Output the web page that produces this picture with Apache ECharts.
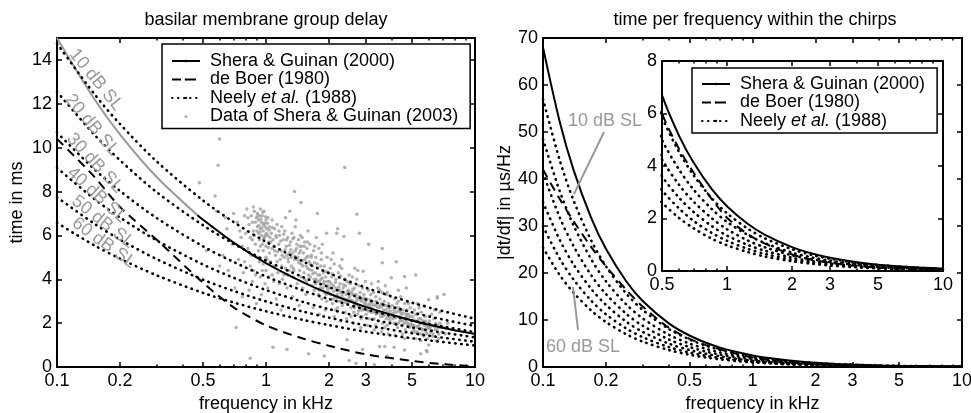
<!DOCTYPE html>
<html><head><meta charset="utf-8">
<script src="https://cdn.jsdelivr.net/npm/echarts@6/dist/echarts.min.js"></script>
<style>html,body{margin:0;padding:0;background:#fff}#c{width:971px;height:413px}</style>
</head><body><div id="c"></div>
<script>
// ---------- data ----------
const freqL = [0.1,0.15,0.2,0.3,0.5,0.7,1,1.5,2,3,5,7,10];
const sheraGrayF = [0.1,0.15,0.2,0.3,0.47];
const sheraGrayT = [15,12.25,10.61,8.66,6.92];
const sheraF = [0.47,0.5,0.7,1,1.5,2,3,5,7,10];
const sheraT = [6.92,6.71,5.67,4.74,3.87,3.35,2.74,2.12,1.79,1.5];
const deBoerT = [10.4,8.7,7.3,5.8,3.84,2.72,1.9,1.3,0.97,0.58,0.28,0.13,0.03];
const neely10T = [14.75,12.48,11.08,9.37,7.59,6.61,5.70,4.82,4.28,3.62,2.93,2.55,2.20];
const neely20T = [12.55,10.62,9.43,7.97,6.46,5.62,4.85,4.10,3.64,3.08,2.49,2.17,1.87];
const neely30T = [10.69,9.04,8.03,6.79,5.50,4.79,4.13,3.49,3.10,2.62,2.12,1.85,1.59];
const neely40T = [9.08,7.68,6.82,5.77,4.67,4.07,3.51,2.97,2.64,2.23,1.80,1.57,1.35];
const neely50T = [7.74,6.55,5.81,4.92,3.98,3.47,2.99,2.53,2.25,1.90,1.54,1.34,1.15];
const neely60T = [6.57,5.56,4.94,4.18,3.38,2.94,2.54,2.15,1.91,1.61,1.31,1.14,0.98];

const freqR = [0.1,0.12,0.14,0.17,0.2,0.25,0.3,0.4,0.5,0.6,0.7,0.85,1,1.25,1.5,2,2.5,3,4,5,7,10];
const sheraR = [68,52.3,41.9,31.7,25.1,18.2,14.0,9.24,6.70,5.15,4.13,3.12,2.47,1.79,1.38,0.91,0.66,0.51,0.335,0.243,0.15,0.09];
const deBoerR = [42,35.8,31.0,25.5,21.4,16.4,12.8,8.3,6.0,4.65,3.75,2.74,2.03,1.40,1.04,0.63,0.42,0.31,0.19,0.13,0.07,0.035];
const neely10R = [57,44.1,35.4,26.9,21.4,15.6,12.1,8.04,5.87,4.53,3.65,2.77,2.20,1.61,1.24,0.83,0.60,0.47,0.31,0.23,0.14,0.085];
const neely20R = [48.5,37.5,30.1,22.9,18.2,13.3,10.3,6.84,4.99,3.86,3.10,2.36,1.87,1.37,1.06,0.70,0.51,0.40,0.26,0.19,0.12,0.072];
const neely30R = [41.3,31.9,25.7,19.5,15.5,11.3,8.75,5.82,4.25,3.28,2.64,2.01,1.59,1.16,0.90,0.60,0.44,0.34,0.23,0.16,0.10,0.062];
const neely40R = [35.1,27.1,21.8,16.6,13.2,9.62,7.43,4.95,3.61,2.79,2.25,1.71,1.35,0.99,0.77,0.51,0.37,0.29,0.19,0.14,0.087,0.052];
const neely50R = [29.9,23.1,18.6,14.1,11.2,8.19,6.33,4.22,3.08,2.38,1.91,1.45,1.15,0.84,0.65,0.43,0.32,0.24,0.16,0.12,0.074,0.045];
const neely60R = [25.4,19.6,15.8,12.0,9.54,6.96,5.38,3.58,2.61,2.02,1.63,1.23,0.98,0.72,0.55,0.37,0.27,0.21,0.14,0.10,0.063,0.038];

const sheraData2003 = [
[0.48,8.4],[0.59,9.2],[0.60,10.4],[0.57,7.8],[0.87,7.3],[1.30,7.1],[1.37,8.0],[1.47,7.5],[1.76,7.0],[2.38,9.1],[1.95,6.1],[2.2,6.3],[2.8,6.1],[3.1,5.6],[3.6,5.4],[4.2,4.8],[5.2,4.2],[6.6,3.2],[7.1,3.3],
[0.72,1.8],[0.84,0.4],[1.08,0.9],[1.26,0.8],[1.9,0.5],[3.3,0.1],[2.5,0.3],[4.1,0.9],[5.5,0.6],[6.0,1.0],[1.6,0.6],[2.9,0.8],[3.8,0.5],[2.7,0.17],[3.5,0.93],[3.7,0.93],[5.9,0.7],[2.44,1.24],[4.6,0.78],
[0.62,5.1],[0.65,6.3],[0.66,4.4],[0.69,5.6],[0.71,3.6],[0.73,6.6],[0.74,4.9],[0.76,5.9],[0.77,3.2],[0.79,6.9],[0.78,4.3],[0.70,7.0],
[0.81,7.2],[0.82,5.4],[0.83,6.5],[0.84,4.6],[0.85,6.9],[0.86,5.8],[0.86,3.9],[0.87,6.2],[0.88,7.1],[0.88,5.1],[0.89,6.6],[0.89,4.2],[0.90,2.9],
[0.90,6.8],[0.91,6.4],[0.91,7.0],[0.92,6.1],[0.92,6.7],[0.93,5.8],[0.93,6.9],[0.94,6.3],[0.94,7.2],[0.95,6.0],[0.95,6.6],[0.96,5.6],[0.96,6.9],[0.97,6.2],[0.97,6.5],[0.98,5.9],[0.98,7.1],[0.99,6.4],[0.99,6.0],[1.00,6.7],[1.00,5.5],[1.01,6.3],[1.02,6.0],[1.02,6.8],[1.03,5.7],[1.04,6.4],[1.04,5.2],[0.93,4.8],[0.96,4.4],[0.99,3.8],[1.01,4.9],[0.95,3.3],[1.03,4.1],[0.92,5.3],
[1.06,6.1],[1.07,5.4],[1.07,6.7],[1.08,5.8],[1.09,4.6],[1.10,6.3],[1.11,5.1],[1.12,5.9],[1.13,6.5],[1.14,4.3],[1.15,5.6],[1.16,6.0],[1.17,4.9],[1.18,5.3],[1.19,6.4],[1.20,4.0],[1.21,5.8],[1.22,5.0],[1.23,6.2],[1.24,4.5],[1.25,5.5],[1.26,3.6],[1.27,5.9],[1.28,4.8],[1.29,5.2],[1.12,3.1],[1.18,2.6],[1.24,6.8],[1.09,3.9],[1.27,4.2],
[1.31,5.7],[1.32,4.6],[1.33,6.1],[1.34,5.2],[1.35,4.1],[1.36,5.9],[1.37,4.9],[1.38,6.4],[1.40,5.4],[1.41,3.8],[1.42,5.0],[1.43,5.8],[1.45,4.4],[1.46,6.0],[1.47,4.7],[1.48,5.5],[1.50,3.6],[1.51,5.2],[1.52,4.3],[1.53,5.7],[1.54,4.9],[1.56,3.9],[1.57,5.4],[1.58,4.5],[1.59,6.2],[1.34,3.2],[1.44,2.8],[1.55,3.3],[1.39,6.7],[1.49,5.9],
[1.61,4.8],[1.62,5.6],[1.63,4.1],[1.65,5.1],[1.66,3.7],[1.67,4.6],[1.69,5.3],[1.70,3.5],[1.72,4.3],[1.73,5.0],[1.75,3.9],[1.76,4.7],[1.78,3.3],[1.79,5.4],[1.81,4.2],[1.82,3.6],[1.84,4.9],[1.85,3.1],[1.87,4.4],[1.88,3.8],[1.90,4.6],[1.91,3.4],[1.93,4.1],[1.95,3.0],[1.96,5.0],[1.98,3.7],[1.99,4.3],[1.68,2.7],[1.80,2.4],[1.92,2.6],[1.74,5.9],[1.86,5.6],
[2.01,3.9],[2.03,4.5],[2.04,3.3],[2.06,4.1],[2.08,2.9],[2.10,3.7],[2.12,4.7],[2.14,3.2],[2.16,4.0],[2.18,3.5],[2.20,2.7],[2.22,4.3],[2.24,3.0],[2.26,3.8],[2.28,3.4],[2.30,4.5],[2.32,2.8],[2.34,3.6],[2.36,3.1],[2.38,4.0],[2.40,2.5],[2.42,3.3],[2.44,3.9],[2.46,2.9],[2.48,3.5],[2.12,2.3],[2.27,2.1],[2.43,2.2],[2.09,5.2],[2.31,4.9],[2.18,6.1],[2.36,5.95],
[2.51,3.2],[2.53,3.8],[2.55,2.7],[2.57,3.4],[2.59,4.1],[2.61,3.0],[2.63,2.5],[2.65,3.6],[2.67,2.9],[2.70,3.3],[2.72,4.0],[2.74,2.4],[2.76,3.1],[2.78,3.7],[2.80,2.7],[2.82,3.4],[2.85,2.2],[2.87,3.0],[2.89,3.6],[2.91,2.6],[2.94,3.3],[2.96,2.9],[2.99,3.9],[3.01,2.4],[3.04,3.1],[3.06,2.7],[3.09,3.5],[3.11,2.2],[3.14,2.9],[3.17,3.3],[3.19,2.5],[2.62,2.0],[2.84,1.8],[3.05,1.9],[2.72,6.96],[2.92,4.36],[2.66,4.5],
[3.22,3.0],[3.24,2.6],[3.27,3.4],[3.29,2.2],[3.32,2.8],[3.35,3.2],[3.37,2.4],[3.40,2.9],[3.43,3.6],[3.45,2.1],[3.48,2.7],[3.51,3.1],[3.54,2.3],[3.56,2.9],[3.59,3.4],[3.62,2.0],[3.65,2.6],[3.68,3.0],[3.71,2.4],[3.74,2.8],[3.77,3.3],[3.80,1.9],[3.83,2.5],[3.86,2.9],[3.89,2.2],[3.92,2.7],[3.95,3.2],[3.98,2.4],[3.30,1.7],[3.58,1.6],[3.85,1.5],[3.60,4.75],[3.98,4.07],[3.45,3.9],[3.72,3.7],
[4.02,2.8],[4.05,2.2],[4.09,2.6],[4.12,3.1],[4.16,2.0],[4.19,2.5],[4.23,2.9],[4.26,1.8],[4.30,2.3],[4.34,2.7],[4.37,2.1],[4.41,3.2],[4.45,2.4],[4.49,1.9],[4.53,2.6],[4.57,2.2],[4.61,2.9],[4.65,1.7],[4.69,2.3],[4.73,2.6],[4.77,2.0],[4.81,2.4],[4.86,1.8],[4.90,2.7],[4.95,2.1],[4.99,1.6],[4.60,4.13],[4.70,3.6],[4.30,3.5],[4.15,1.45],[4.6,1.3],
[5.03,2.3],[5.08,1.9],[5.13,2.6],[5.18,1.6],[5.23,2.1],[5.28,2.4],[5.33,1.8],[5.38,2.2],[5.43,1.5],[5.48,2.0],[5.53,2.5],[5.58,1.7],[5.63,2.1],[5.68,1.4],[5.73,1.9],[5.78,2.3],[5.83,1.6],[5.88,2.0],[5.93,1.3],[5.98,1.8],[5.30,2.9],[5.70,2.8],[5.5,1.2],[5.85,0.75],
[6.05,2.1],[6.12,1.6],[6.20,1.9],[6.28,1.4],[6.36,2.2],[6.44,1.7],[6.52,1.2],[6.60,1.9],[6.70,1.5],[6.80,2.0],[6.95,1.6],[7.10,1.8],[6.00,3.07],[6.60,3.15],[6.4,2.6],
[0.905,6.2],[0.915,6.9],[0.925,6.45],[0.935,6.15],[0.945,6.75],[0.955,6.35],[0.965,7.05],[0.975,5.85],[0.985,6.55],[0.995,6.85],[1.005,6.1],[1.015,6.55],[1.025,5.45],[1.035,6.25],[1.045,5.9],[0.94,5.5],[0.97,5.3],[1.0,5.0],
[1.055,5.7],[1.075,6.35],[1.095,5.5],[1.115,6.0],[1.135,5.25],[1.155,6.2],[1.175,5.75],[1.195,5.1],[1.215,6.05],[1.235,5.35],[1.255,5.8],[1.275,4.95],[1.295,5.55],
[1.315,5.35],[1.345,5.85],[1.375,5.05],[1.405,5.6],[1.435,4.75],[1.465,5.3],[1.495,4.85],[1.525,5.5],[1.555,4.6],[1.585,5.05],
[1.615,4.45],[1.645,5.0],[1.675,4.25],[1.705,4.75],[1.735,4.0],[1.765,4.5],[1.795,3.9],[1.825,4.6],[1.855,4.05],[1.885,4.3],[1.915,3.75],[1.945,4.35],[1.975,3.55],
[2.02,3.6],[2.07,4.25],[2.11,3.45],[2.15,3.85],[2.19,3.15],[2.23,3.65],[2.27,4.15],[2.31,3.25],[2.35,3.75],[2.39,2.95],[2.45,3.45],[2.49,3.85],
[2.54,3.05],[2.6,3.55],[2.66,2.85],[2.71,3.15],[2.77,2.55],[2.83,3.05],[2.88,2.75],[2.95,3.15],[3.02,2.85],[3.08,2.55],[3.15,3.05],
[3.25,2.85],[3.33,2.55],[3.41,2.75],[3.5,2.45],[3.57,2.75],[3.66,2.35],[3.75,2.6],[3.84,2.3],[3.93,2.55],
[4.06,2.45],[4.18,2.25],[4.3,2.55],[4.42,2.15],[4.55,2.45],[4.68,2.05],[4.8,2.25],[4.93,1.95],
[5.1,2.15],[5.25,1.85],[5.4,2.05],[5.55,1.75],[5.7,2.05],[5.85,1.85],[6.0,1.75],[6.2,1.65],[6.4,1.85],[6.65,1.75],
[0.55,6.4],[0.58,7.1],[0.64,6.8],[0.52,5.3],[0.6,4.6],
[0.75,6.2],[0.77,5.5],[0.79,4.8],[0.8,6.1],[0.82,6.8],[0.83,3.5],[0.84,5.9],[0.85,5.1],[0.86,6.6],[0.87,4.4],[0.88,6.0],[0.89,5.6],
[0.91,5.0],[0.94,4.1],[0.97,4.7],[1.0,4.4],[1.02,3.6],[1.05,4.8],[1.07,4.2],[1.1,5.3],[1.13,4.8],[1.16,3.8],[1.19,4.6],[1.22,4.2],[1.26,5.1],[1.29,4.4],
[1.32,5.0],[1.35,4.5],[1.38,5.3],[1.41,4.9],[1.44,5.2],[1.47,4.1],[1.5,4.6],[1.53,4.0],[1.56,5.0],[1.6,4.2],[1.63,4.7],[1.66,4.4],[1.7,4.0],[1.73,3.8],[1.77,4.2],[1.8,3.5],[1.83,4.0],[1.87,3.6],[1.9,3.9],[1.94,3.3],[1.97,3.9],[1.45,5.5],[1.58,5.7],[1.71,5.5],[1.84,5.2],[1.36,4.4],
[2.0,3.4],[2.05,3.8],[2.1,3.1],[2.15,3.6],[2.2,3.3],[2.25,3.5],[2.3,3.0],[2.35,3.4],[2.4,3.7],[2.45,3.1],[2.5,3.4],[2.55,3.0],[2.6,3.3],[2.65,2.7],[2.7,3.0],[2.75,2.8],[2.8,3.2],[2.85,2.6],[2.9,3.1],[2.95,2.7],[2.05,4.9],[2.25,4.6],[2.5,4.2],[2.75,4.4],[2.15,2.6],[2.55,2.3],[2.88,2.3],
[3.0,3.0],[3.06,2.6],[3.12,2.8],[3.2,2.7],[3.28,2.5],[3.36,3.0],[3.44,2.5],[3.52,2.8],[3.6,2.3],[3.68,2.8],[3.76,2.2],[3.84,2.7],[3.92,2.1],[3.2,3.8],[3.5,3.5],[3.8,3.4],[3.35,1.9],[3.7,1.8],
[4.0,2.3],[4.1,2.0],[4.2,2.7],[4.3,2.0],[4.4,2.5],[4.5,2.1],[4.6,2.0],[4.7,2.4],[4.8,1.9],[4.9,2.3],[5.0,1.9],[5.1,1.7],[5.2,2.4],[5.3,1.6],[5.4,1.9],[5.5,2.2],[5.6,1.5],[5.7,1.7],[5.8,2.1],[5.9,1.5],[4.3,3.0],[4.8,2.9],[5.4,2.7],[4.5,1.5],[5.2,1.3],
[6.1,1.8],[6.3,1.5],[6.5,2.0],[6.7,1.3],[6.9,1.8],[7.2,1.5],[7.4,2.0],[6.2,2.4],[6.8,2.5]
];

const xTicks = [0.1,0.2,0.5,1,2,3,5,10];
const xMinor = [0.3,0.4,0.6,0.7,0.8,0.9,4,6,7,8,9];
const insetXTicks = [0.5,1,2,3,5,10];
const insetXMinor = [0.6,0.7,0.8,0.9,4,6,7,8,9];
const leftYTicks = [0,2,4,6,8,10,12,14];
const rightYTicks = [0,10,20,30,40,50,60,70];
const insetYTicks = [0,2,4,6,8];

const NAME_SG = 'Shera & Guinan (2000)';
const NAME_DB = 'de Boer (1980)';
const NAME_NE = 'Neely et al. (1988)';
const NAME_DATA = 'Data of Shera & Guinan (2003)';

// ---------- building ----------
const FONT = '"Liberation Sans", Arial, Helvetica, sans-serif';
const FS = 18;
const BLACK = '#000';
const GRAY = '#999';

function xAx(grid, pos, min, max, vals, len, showLine, showLabel, extra) {
  return Object.assign({
    type: 'log', logBase: 10, gridIndex: grid, position: pos, min: min, max: max,
    axisLine: {show: showLine, onZero: false, lineStyle: {color: BLACK, width: 2}},
    axisTick: {show: true, inside: true, length: len, customValues: vals, lineStyle: {color: BLACK, width: 1.5}},
    axisLabel: showLabel ? {show: true, customValues: vals, color: BLACK, fontSize: FS, fontFamily: FONT, margin: 5,
      formatter: function (v) { return String(+(+v).toPrecision(3)); }} : {show: false},
    splitLine: {show: false}, minorTick: {show: false}
  }, extra || {});
}
function yAx(grid, pos, min, max, vals, showLabel, extra) {
  return Object.assign({
    type: 'value', gridIndex: grid, position: pos, min: min, max: max,
    axisLine: {show: true, onZero: false, lineStyle: {color: BLACK, width: 2}},
    axisTick: {show: true, inside: true, length: 5, customValues: vals, lineStyle: {color: BLACK, width: 1.5}},
    axisLabel: showLabel ? {show: true, customValues: vals, color: BLACK, fontSize: FS, fontFamily: FONT, margin: 5} : {show: false},
    splitLine: {show: false}
  }, extra || {});
}
const nameStyle = {color: BLACK, fontSize: FS, fontFamily: FONT};

const xAxis = [
  xAx(0, 'bottom', 0.1, 10, xTicks, 5, true, true, {name: 'frequency in kHz', nameLocation: 'middle', nameGap: 27, nameTextStyle: nameStyle}),
  xAx(0, 'bottom', 0.1, 10, xMinor, 2.5, false, false),
  xAx(0, 'top', 0.1, 10, xTicks, 5, true, false),
  xAx(0, 'top', 0.1, 10, xMinor, 2.5, false, false),
  xAx(1, 'bottom', 0.1, 10, xTicks, 5, true, true, {name: 'frequency in kHz', nameLocation: 'middle', nameGap: 27, nameTextStyle: nameStyle}),
  xAx(1, 'bottom', 0.1, 10, xMinor, 2.5, false, false),
  xAx(1, 'top', 0.1, 10, xTicks, 5, true, false),
  xAx(1, 'top', 0.1, 10, xMinor, 2.5, false, false),
  xAx(2, 'bottom', 0.5, 10, insetXTicks, 5, true, true, {z: 6}),
  xAx(2, 'bottom', 0.5, 10, insetXMinor, 2.5, false, false, {z: 6}),
  xAx(2, 'top', 0.5, 10, insetXTicks, 5, true, false, {z: 6}),
  xAx(2, 'top', 0.5, 10, insetXMinor, 2.5, false, false, {z: 6})
];
const yAxis = [
  yAx(0, 'left', 0, 15, leftYTicks, true, {name: 'time in ms', nameLocation: 'middle', nameGap: 31, nameTextStyle: nameStyle}),
  yAx(0, 'right', 0, 15, leftYTicks, false),
  yAx(1, 'left', 0, 70, rightYTicks, true, {name: '|dt/df| in \u00b5s/Hz', nameLocation: 'middle', nameGap: 29, nameTextStyle: nameStyle}),
  yAx(1, 'right', 0, 70, rightYTicks, false),
  yAx(2, 'left', 0, 8, insetYTicks, true, {z: 6}),
  yAx(2, 'right', 0, 8, insetYTicks, false, {z: 6})
];

const SOLID = {color: BLACK, width: 2, type: 'solid'};
const GRAYSOLID = {color: GRAY, width: 2, type: 'solid'};
const DASHED = {color: BLACK, width: 2, type: [9, 6]};
const DOTTED = {color: BLACK, width: 2.6, type: [0.5, 5.5], cap: 'round'};

function pairs(fs, vs) { return fs.map(function (f, i) { return [f, vs[i]]; }); }
function line(name, xi, yi, fs, vs, style, z) {
  return {type: 'line', name: name, xAxisIndex: xi, yAxisIndex: yi, data: pairs(fs, vs),
    showSymbol: false, symbol: 'none', smooth: 0.3,
    lineStyle: style, itemStyle: {color: style.color}, z: z || 3, silent: true, animation: false};
}

const series = [
  {type: 'scatter', name: NAME_DATA, xAxisIndex: 0, yAxisIndex: 0, data: sheraData2003,
   symbol: 'circle', symbolSize: 3.5, itemStyle: {color: '#9e9e9e'}, z: 1, silent: true, animation: false},
  line('Shera & Guinan (2000) extrapolated', 0, 0, sheraGrayF, sheraGrayT, GRAYSOLID),
  line(NAME_SG, 0, 0, sheraF, sheraT, SOLID),
  line(NAME_DB, 0, 0, freqL, deBoerT, DASHED),
  line(NAME_NE, 0, 0, freqL, neely10T, DOTTED),
  line(NAME_NE, 0, 0, freqL, neely20T, DOTTED),
  line(NAME_NE, 0, 0, freqL, neely30T, DOTTED),
  line(NAME_NE, 0, 0, freqL, neely40T, DOTTED),
  line(NAME_NE, 0, 0, freqL, neely50T, DOTTED),
  line(NAME_NE, 0, 0, freqL, neely60T, DOTTED)
];
[[4, 2, 3], [8, 4, 7]].forEach(function (a) {
  const xi = a[0], yi = a[1], z = a[2];
  series.push(line(NAME_SG, xi, yi, freqR, sheraR, SOLID, z));
  series.push(line(NAME_DB, xi, yi, freqR, deBoerR, DASHED, z));
  [neely10R, neely20R, neely30R, neely40R, neely50R, neely60R].forEach(function (v) {
    series.push(line(NAME_NE, xi, yi, freqR, v, DOTTED, z));
  });
});

const legendText = {color: BLACK, fontSize: FS, fontFamily: FONT, padding: [0, 0, 0, 5],
  rich: {i: {fontStyle: 'italic', fontSize: FS, fontFamily: FONT, color: BLACK}}};
function legendFmt(n) { return n === NAME_NE ? 'Neely {i|et al.} (1988)' : n; }
const legend = [
  {left: 162, top: 44, orient: 'vertical', itemWidth: 28, itemHeight: 3, itemGap: 0.5, selectedMode: false,
   padding: [8, 12, 3, 9], borderColor: BLACK, borderWidth: 1.5, backgroundColor: '#fff', z: 10,
   data: [{name: NAME_SG}, {name: NAME_DB}, {name: NAME_NE}, {name: NAME_DATA, icon: 'circle'}],
   textStyle: legendText, formatter: legendFmt},
  {left: 692, top: 68, orient: 'vertical', itemWidth: 28, itemHeight: 3, itemGap: 0.5, selectedMode: false,
   padding: [7, 12, 3, 9], borderColor: BLACK, borderWidth: 1.5, backgroundColor: '#fff', z: 10,
   data: [{name: NAME_SG}, {name: NAME_DB}, {name: NAME_NE}],
   textStyle: legendText, formatter: legendFmt}
];

function gtext(t, x, y, deg) {
  return {type: 'text', x: x, y: y, rotation: -deg * Math.PI / 180, z: 20, silent: true,
    style: {text: t, fill: GRAY, font: FS + 'px ' + FONT, align: 'center', verticalAlign: 'middle'}};
}
const graphic = [
  gtext('10 dB SL', 96, 80, 51), gtext('20 dB SL', 92, 125, 50), gtext('30 dB SL', 95, 163, 47),
  gtext('40 dB SL', 97, 195, 42), gtext('50 dB SL', 103, 222, 38), gtext('60 dB SL', 104, 243, 36),
  gtext('10 dB SL', 605, 121, 0), gtext('60 dB SL', 583, 347, 0),
  {type: 'line', z: 20, silent: true, shape: {x1: 604, y1: 132, x2: 574, y2: 194}, style: {stroke: GRAY, lineWidth: 2}},
  {type: 'line', z: 20, silent: true, shape: {x1: 578, y1: 330, x2: 573, y2: 287}, style: {stroke: GRAY, lineWidth: 2}}
];

const option = {
  animation: false,
  backgroundColor: '#fff',
  textStyle: {fontFamily: FONT},
  title: [
    {text: 'basilar membrane group delay', left: 266, top: 11, textAlign: 'center', padding: 0,
     textStyle: {color: BLACK, fontSize: FS, fontWeight: 'normal', fontFamily: FONT}},
    {text: 'time per frequency within the chirps', left: 755, top: 11, textAlign: 'center', padding: 0,
     textStyle: {color: BLACK, fontSize: FS, fontWeight: 'normal', fontFamily: FONT}}
  ],
  grid: [
    {left: 57, top: 38, width: 418, height: 329, outerBoundsMode: 'none', containLabel: false},
    {left: 543, top: 38, width: 419, height: 329, outerBoundsMode: 'none', containLabel: false},
    {left: 662, top: 61, width: 281, height: 210, show: true, backgroundColor: '#fff', borderWidth: 0, z: 5, outerBoundsMode: 'none', containLabel: false}
  ],
  legend: legend,
  xAxis: xAxis,
  yAxis: yAxis,
  series: series,
  graphic: graphic
};
const chart = echarts.init(document.getElementById('c'), null, {renderer: 'canvas'});
chart.setOption(option);
</script></body></html>
